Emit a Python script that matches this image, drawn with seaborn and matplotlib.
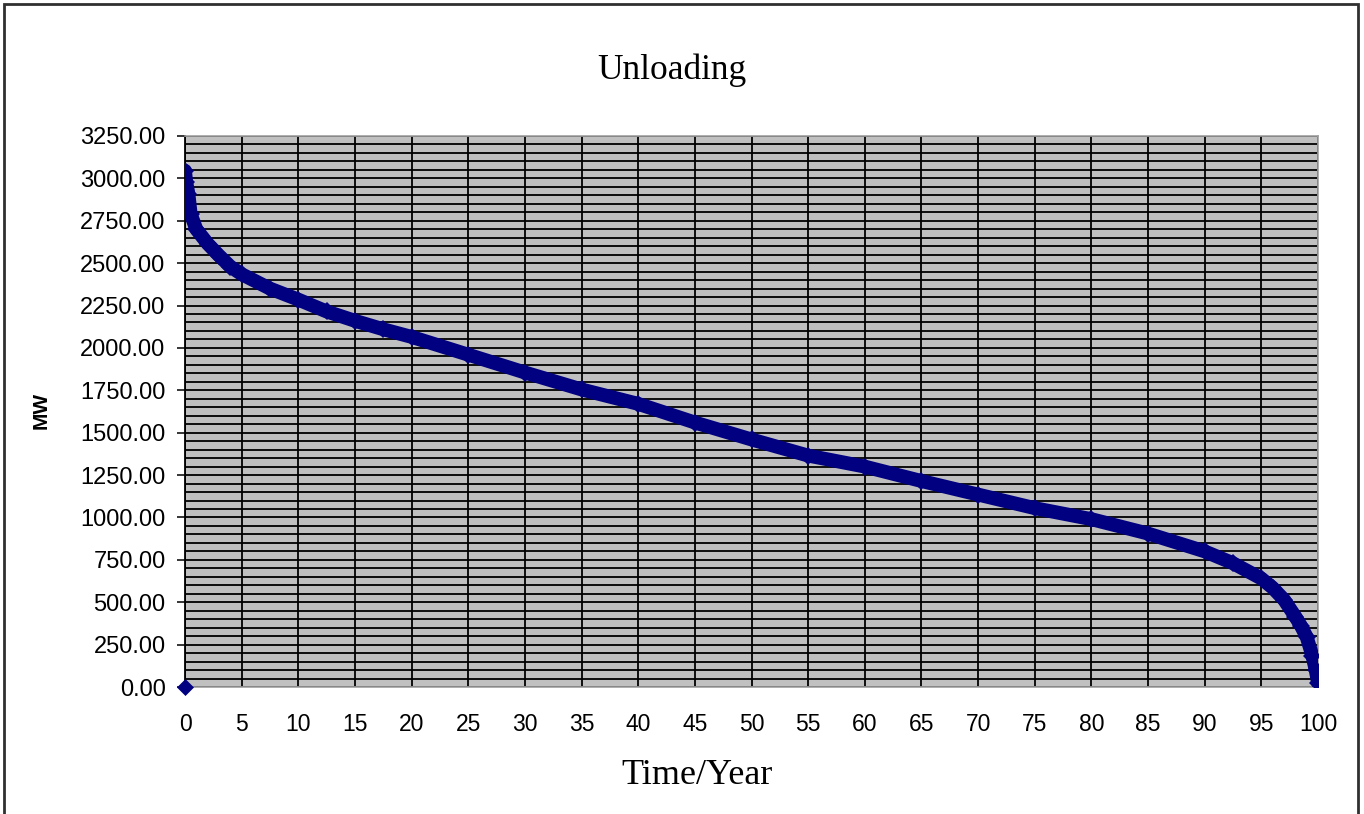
import numpy as np
import pandas as pd
import seaborn as sns
import matplotlib.pyplot as plt
from matplotlib.patches import Rectangle
from matplotlib.ticker import MultipleLocator, FuncFormatter

# values (percent of time, MW)
time_pct = [0, 0.1, 0.3, 0.5, 1.0, 2.0, 3.0, 4.0, 5, 7.5, 10, 12.5, 15, 17.5, 20,
            25, 30, 35, 40, 45, 50, 55, 60, 65, 70, 75, 80, 85, 90, 92.5, 95,
            96, 97, 98, 98.5, 99, 99.5, 99.8, 100]
load_mw = [3045, 2980, 2910, 2790, 2700, 2615, 2545, 2480, 2435, 2350, 2285, 2215,
           2160, 2110, 2065, 1960, 1855, 1755, 1670, 1560, 1460, 1365, 1300, 1215,
           1135, 1055, 990, 905, 800, 730, 640, 585, 515, 415, 360, 295, 185, 100, 25]
# stray point at the origin
origin_x = [0]
origin_y = [0]

y_ticks = list(range(0, 3251, 250))
x_ticks = list(range(0, 101, 5))

navy = '#000080'

df = pd.DataFrame({'time': time_pct, 'mw': load_mw})
df0 = pd.DataFrame({'time': origin_x, 'mw': origin_y})

sns.set_style('white')
fig = plt.figure(figsize=(13.64, 8.14), dpi=100)
ax = fig.add_axes([185 / 1364, 1 - 687 / 814, (1318 - 185) / 1364, (687 - 136) / 814])
ax.set_facecolor('#C0C0C0')

sns.lineplot(data=df, x='time', y='mw', sort=False, color=navy, linewidth=10,
             marker='D', markersize=9, markeredgewidth=0, ax=ax, zorder=3)
sns.scatterplot(data=df0, x='time', y='mw', color=navy, marker='D', s=75,
                linewidth=0, ax=ax, zorder=4, clip_on=False)

ax.set_xlim(0, 100)
ax.set_ylim(0, 3250)
ax.set_xticks(x_ticks)
ax.set_yticks(y_ticks)
ax.yaxis.set_minor_locator(MultipleLocator(50))
ax.yaxis.set_major_formatter(FuncFormatter(lambda v, p: f'{v:.2f}'))
ax.grid(True, which='major', axis='both', color='black', linewidth=1.3)
ax.grid(True, which='minor', axis='y', color='black', linewidth=1.3)
ax.set_axisbelow(True)

for s in ['top', 'right', 'bottom']:
    ax.spines[s].set_color('#A0A0A0')
    ax.spines[s].set_linewidth(1.2)
ax.spines['left'].set_color('black')
ax.spines['left'].set_linewidth(1.3)

ax.tick_params(axis='x', length=0, pad=19, labelsize=16.5, labelcolor='black')
ax.tick_params(axis='y', which='major', left=True, length=6, width=1.3,
               direction='out', pad=8, labelsize=17, labelcolor='black')
ax.tick_params(axis='y', which='minor', left=False)
for lab in ax.get_xticklabels() + ax.get_yticklabels():
    lab.set_family('Liberation Sans')
ax.set_xlabel('')
ax.set_ylabel('')

fig.text(672 / 1364, 1 - 70 / 814, 'Unloading', ha='center', va='center',
         family='Liberation Serif', fontsize=25.5, color='black')
fig.text(697 / 1364, 1 - 775 / 814, 'Time/Year', ha='center', va='center',
         family='Liberation Serif', fontsize=26, color='black')
fig.text(41 / 1364, 1 - 410 / 814, 'MW', ha='center', va='center', rotation=90,
         family='Liberation Sans', fontweight='bold', fontsize=15, color='black')

fig.patches.append(Rectangle((4 / 1364, -0.01), (1358 - 4) / 1364, 1 - 4 / 814 + 0.01,
                             transform=fig.transFigure, fill=False,
                             edgecolor='#303030', linewidth=2))

fig.savefig('out.png', dpi=100)
